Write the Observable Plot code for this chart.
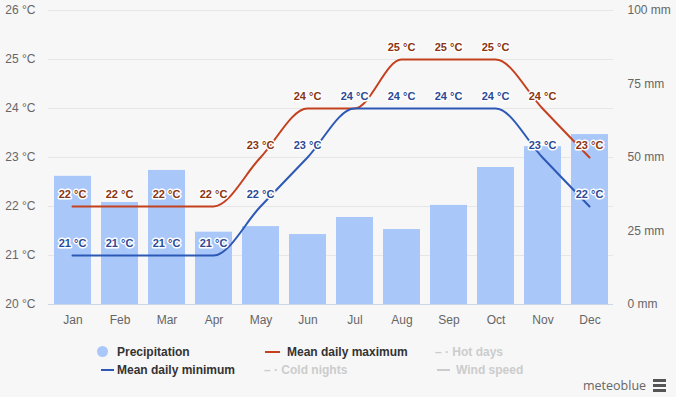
<!DOCTYPE html>
<html>
<head>
<meta charset="utf-8">
<script src="https://cdn.jsdelivr.net/npm/d3@7"></script>
<script src="https://cdn.jsdelivr.net/npm/@observablehq/plot@0.6"></script>
<style>
  html, body { margin: 0; padding: 0; background: #f7f7f7; }
  #wrap { position: relative; width: 676px; height: 397px; overflow: hidden; background: #f7f7f7; font-family: "Liberation Sans", Arial, sans-serif; }
  .layer { position: absolute; left: 0; top: 0; }
  .layer svg { background: transparent !important; }
  .leg { position: absolute; font-size: 12px; font-weight: bold; color: #333; white-space: nowrap; line-height: 14px; }
  .leg.off { color: #cccccc; }
  .sym { position: absolute; }
  #brand { position: absolute; left: 583px; top: 377px; font-size: 12.5px; color: #666; font-family: "Open Sans", sans-serif; }
  .hb { position: absolute; left: 653px; width: 13px; height: 3px; background: #555; }
</style>
</head>
<body>
<div id="wrap">
  <div id="l1" class="layer"></div>
  <div id="l2" class="layer"></div>
  <div id="l3" class="layer"></div>
</div>
<script>
const months = ["Jan","Feb","Mar","Apr","May","Jun","Jul","Aug","Sep","Oct","Nov","Dec"];
const precipitation = [43.6, 34.7, 45.6, 24.6, 26.5, 23.8, 29.6, 25.5, 33.7, 46.6, 53.7, 57.8];
const meanMax = [22, 22, 22, 22, 23, 24, 24, 25, 25, 25, 24, 23];
const meanMin = [21, 21, 21, 21, 22, 23, 24, 24, 24, 24, 23, 22];
const tempTicks = [20, 21, 22, 23, 24, 25, 26];
const mmTicks = [0, 25, 50, 75, 100];

const data = months.map((m, i) => ({month: m, precip: precipitation[i], max: meanMax[i], min: meanMin[i]}));

const W = 676, H = 330;
const M = {marginLeft: 48, marginRight: 63, marginTop: 10, marginBottom: 26};
const font = {fontFamily: "Liberation Sans, Arial, sans-serif"};

// Layer 1: grid and temperature axis
const p1 = Plot.plot({
  width: W, height: H, ...M,
  style: {background: "transparent", ...font, fontSize: "12px"},
  x: {domain: months, type: "band", axis: null},
  y: {domain: [20, 26], axis: null},
  marks: [
    Plot.gridY(tempTicks, {stroke: "#e6e6e6", strokeOpacity: 1}),
    Plot.axisY(tempTicks, {anchor: "left", tickSize: 0, tickPadding: 13, tickFormat: d => `${d} °C`, fill: "#666", label: null})
  ]
});
document.getElementById("l1").appendChild(p1);

// Layer 2: precipitation bars, mm axis, month axis
const p2 = Plot.plot({
  width: W, height: H, ...M,
  style: {background: "transparent", ...font, fontSize: "12px"},
  x: {domain: months, type: "band", paddingInner: 0.213, paddingOuter: 0.1065, align: 0.5, axis: null},
  y: {domain: [0, 100], axis: null},
  marks: [
    Plot.barY(data, {x: "month", y: "precip", fill: "#a9c8f9"}),
    Plot.ruleY([0], {stroke: "#ccd6eb"}),
    Plot.axisY(mmTicks, {anchor: "right", tickSize: 0, tickPadding: 14, tickFormat: d => `${d} mm`, fill: "#666", label: null}),
    Plot.axisX(months, {anchor: "bottom", tickSize: 0, tickPadding: 11, fill: "#666", label: null})
  ]
});
document.getElementById("l2").appendChild(p2);

// Layer 3: temperature lines and labels
const p3 = Plot.plot({
  width: W, height: H, ...M,
  style: {background: "transparent", ...font},
  x: {domain: months, type: "point", padding: 0.5, axis: null},
  y: {domain: [20, 26], axis: null},
  marks: [
    Plot.line(data, {x: "month", y: "max", stroke: "#c4401f", strokeWidth: 2, curve: "monotone-x"}),
    Plot.line(data, {x: "month", y: "min", stroke: "#2d58b5", strokeWidth: 2, curve: "monotone-x"}),
    Plot.text(data, {x: "month", y: "max", text: d => `${d.max} °C`, dy: -12, fill: "#8a3512", stroke: "white", strokeWidth: 3, fontWeight: "bold", fontSize: 11}),
    Plot.text(data, {x: "month", y: "min", text: d => `${d.min} °C`, dy: -12, fill: "#2c4a96", stroke: "white", strokeWidth: 3, fontWeight: "bold", fontSize: 11})
  ]
});
document.getElementById("l3").appendChild(p3);

// Legend
const wrap = document.getElementById("wrap");
function addText(txt, x, y, off) {
  const d = document.createElement("div");
  d.className = "leg" + (off ? " off" : "");
  d.textContent = txt;
  d.style.left = x + "px";
  d.style.top = (y - 7) + "px";
  wrap.appendChild(d);
}
function addSym(css) {
  const d = document.createElement("div");
  d.className = "sym";
  Object.assign(d.style, css);
  wrap.appendChild(d);
}
// row 1
addSym({left: "97px", top: "346px", width: "11px", height: "11px", borderRadius: "50%", background: "#a9c8f9"});
addText("Precipitation", 117, 352, false);
addSym({left: "265px", top: "351px", width: "15px", height: "2px", background: "#c4401f"});
addText("Mean daily maximum", 287, 352, false);
addText("– · Hot days", 435, 352, true);
// row 2
addSym({left: "101px", top: "369px", width: "13px", height: "2px", background: "#2d58b5"});
addText("Mean daily minimum", 117, 370, false);
addText("– · Cold nights", 264, 370, true);
addSym({left: "437px", top: "369px", width: "13px", height: "2px", background: "#cccccc"});
addText("Wind speed", 456, 370, true);

const brand = document.createElement("div");
brand.id = "brand";
brand.textContent = "meteoblue";
wrap.appendChild(brand);
[379, 384, 389].forEach(t => {
  const b = document.createElement("div");
  b.className = "hb";
  b.style.top = t + "px";
  wrap.appendChild(b);
});
</script>
</body>
</html>
